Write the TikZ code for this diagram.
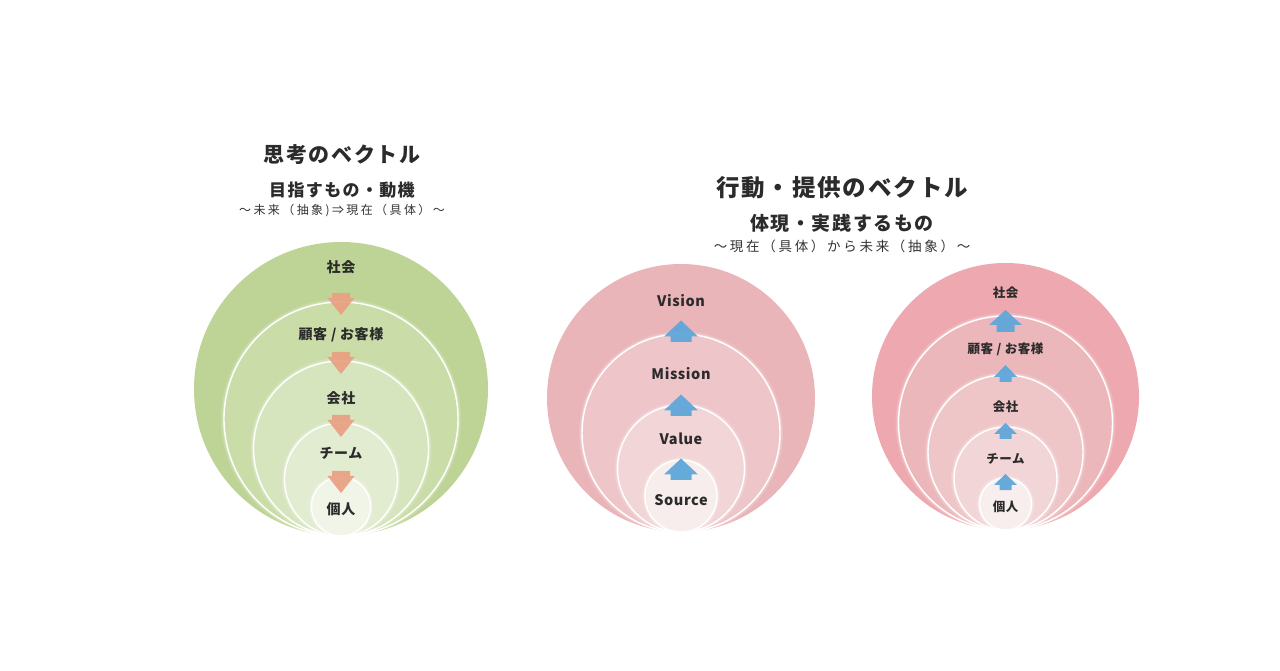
\documentclass[tikz,border=0pt]{standalone}
\usepackage{fontspec}
\setmainfont{Noto Sans CJK JP}
\usetikzlibrary{math, calc}

% colores de los círculos
\definecolor{verdeA}{HTML}{BED496}
\definecolor{verdeB}{HTML}{CADDA9}
\definecolor{verdeC}{HTML}{D6E5BD}
\definecolor{verdeD}{HTML}{E2ECD0}
\definecolor{verdeE}{HTML}{F0F5E8}
\definecolor{rosaA}{HTML}{E9B5B9}
\definecolor{rosaB}{HTML}{EEC5C8}
\definecolor{rosaC}{HTML}{F2D5D6}
\definecolor{rosaD}{HTML}{F8EDED}
\definecolor{fresaA}{HTML}{EDA9AF}
\definecolor{fresaB}{HTML}{ECB7BB}
\definecolor{fresaC}{HTML}{EFC6C8}
\definecolor{fresaD}{HTML}{F2D6D7}
\definecolor{fresaE}{HTML}{F8EEEE}
\definecolor{salmon}{HTML}{E9A083}
\definecolor{celeste}{HTML}{5FA7DA}
\definecolor{tinta}{HTML}{2B2B2B}

\begin{document}
\begin{tikzpicture}[
	% Propiedades generales del dibujo
	x = 1pt, y = 1pt,
	line join = round, line cap = round,
	% Definición de nuevos estilos
	% 	a. círculos
	fondo/.style = {fill = #1},
	anillo/.style = {
		fill = #1,
		draw = white,
		line width = 1.4pt
	},
	halo/.style = {
		draw = white,
		opacity = 0.15,
		line width = 6pt,
		postaction = {draw = white, opacity = 0.25, line width = 3pt}
	},
	% 	b. textos
	titulo/.style = {
		text = tinta,
		font = \bfseries\fontsize{21}{25}\selectfont\addfontfeature{LetterSpace=8}
	},
	lema/.style = {
		text = tinta,
		font = \bfseries\fontsize{17}{20}\selectfont\addfontfeature{LetterSpace=8}
	},
	nota/.style = {
		text = black!80,
		font = \fontsize{12}{14}\selectfont\addfontfeature{LetterSpace=20}
	},
	etiqueta/.style = {
		text = tinta,
		font = \bfseries\fontsize{#1}{#1}\selectfont\addfontfeature{LetterSpace=4}
	},
	etiqueta/.default = 14,
	%	c. flechas de bloque
	pics/bajada/.style n args = {4}{code = {
		\fill[salmon, opacity = 0.92]
			(-#2,0) -- (#2,0) -- (#2,-#3) -- (#1,-#3)
			-- (0,-#4) -- (-#1,-#3) -- (-#2,-#3) -- cycle;
	}},
	pics/subida/.style n args = {4}{code = {
		\fill[celeste, opacity = 0.95]
			(-#2,0) -- (#2,0) -- (#2,#3) -- (#1,#3)
			-- (0,#4) -- (-#1,#3) -- (-#2,#3) -- cycle;
	}},
]

	% márgenes del dibujo
	\useasboundingbox (0,0) rectangle (1280,670);

	% títulos
	\node[titulo] (titulo-pensar) at (342,515) {思考のベクトル};
	\node[lema] (lema-pensar) at (342,480) {目指すもの・動機};
	\node[nota] (nota-pensar) at (342,459) {～未来（抽象)⇒現在（具体）～};

	\node[titulo, font = \bfseries\fontsize{23.5}{28}\selectfont\addfontfeature{LetterSpace=8}]
		(titulo-actuar) at (842,482) {行動・提供のベクトル};
	\node[lema, font = \bfseries\fontsize{19}{22}\selectfont\addfontfeature{LetterSpace=8}]
		(lema-actuar) at (842,447) {体現・実践するもの};
	\node[nota, font = \fontsize{13.5}{16}\selectfont\addfontfeature{LetterSpace=20}]
		(nota-actuar) at (842,424) {～現在（具体）から未来（抽象）～};

	% grupo izquierdo: del futuro al presente
	\begin{scope}[shift = {(341,134)}]

		\fill[fondo = verdeA] (0,147) circle (147);
		\draw[halo] (0,117) circle (117);
		\draw[anillo = verdeB] (0,117) circle (117);
		\draw[halo] (0,87.5) circle (87.5);
		\draw[anillo = verdeC] (0,87.5) circle (87.5);
		\draw[halo] (0,56.5) circle (56.5);
		\draw[anillo = verdeD] (0,56.5) circle (56.5);
		\draw[halo] (0,29.5) circle (29.5);
		\draw[anillo = verdeE] (0,29.5) circle (29.5);

		% flechas hacia abajo
		\pic at (0,243) {bajada = {13.5}{9}{5}{22}};
		\pic at (0,184) {bajada = {13.5}{9}{5}{22}};
		\pic at (0,121) {bajada = {13.5}{9}{5}{22}};
		\pic at (0,65) {bajada = {13.5}{9}{5}{22}};

		% niveles
		\node[etiqueta] (izq-sociedad) at (0,269) {社会};
		\node[etiqueta] (izq-cliente) at (0,201) {顧客 / お客様};
		\node[etiqueta] (izq-empresa) at (0,138) {会社};
		\node[etiqueta] (izq-equipo) at (0,83) {チーム};
		\node[etiqueta] (izq-persona) at (0,27) {個人};

	\end{scope}

	% grupo central: de la fuente a la visión
	\begin{scope}[shift = {(681,138)}]

		\fill[fondo = rosaA] (0,134) circle (134);
		\draw[halo] (0,99) circle (99);
		\draw[anillo = rosaB] (0,99) circle (99);
		\draw[halo] (0,63.5) circle (63.5);
		\draw[anillo = rosaC] (0,63.5) circle (63.5);
		\draw[halo] (0,36) circle (36);
		\draw[anillo = rosaD] (0,36) circle (36);

		% flechas hacia arriba
		\pic at (0,190) {subida = {17}{10.5}{5.5}{21.5}};
		\pic at (0,116) {subida = {17}{10.5}{5.5}{21.5}};
		\pic at (0,52) {subida = {17}{10.5}{5.5}{21.5}};

		% niveles
		\node[etiqueta = 14.5] (cen-vision) at (0,231) {Vision};
		\node[etiqueta = 14.5] (cen-mision) at (0,158) {Mission};
		\node[etiqueta = 14.5] (cen-valor) at (0,93) {Value};
		\node[etiqueta = 14.5] (cen-fuente) at (0,32) {Source};

	\end{scope}

	% grupo derecho: del presente al futuro
	\begin{scope}[shift = {(1005.5,140)}]

		\fill[fondo = fresaA] (0,133.5) circle (133.5);
		\draw[halo] (0,107) circle (107);
		\draw[anillo = fresaB] (0,107) circle (107);
		\draw[halo] (0,77.5) circle (77.5);
		\draw[anillo = fresaC] (0,77.5) circle (77.5);
		\draw[halo] (0,51.5) circle (51.5);
		\draw[anillo = fresaD] (0,51.5) circle (51.5);
		\draw[halo] (0,26) circle (26);
		\draw[anillo = fresaE] (0,26) circle (26);

		% flechas hacia arriba
		\pic at (0,198) {subida = {16.5}{9}{7}{22}};
		\pic at (0,148) {subida = {11.5}{6}{5}{17}};
		\pic at (0,91) {subida = {11.5}{6}{5}{16}};
		\pic at (0,40) {subida = {11.5}{6}{5}{16}};

		% niveles
		\node[etiqueta = 12.5] (der-sociedad) at (0,237) {社会};
		\node[etiqueta = 12.5] (der-cliente) at (0,181) {顧客 / お客様};
		\node[etiqueta = 12.5] (der-empresa) at (0,123) {会社};
		\node[etiqueta = 12.5] (der-equipo) at (0,71) {チーム};
		\node[etiqueta = 12.5] (der-persona) at (0,23) {個人};

	\end{scope}

\end{tikzpicture}
\end{document}
